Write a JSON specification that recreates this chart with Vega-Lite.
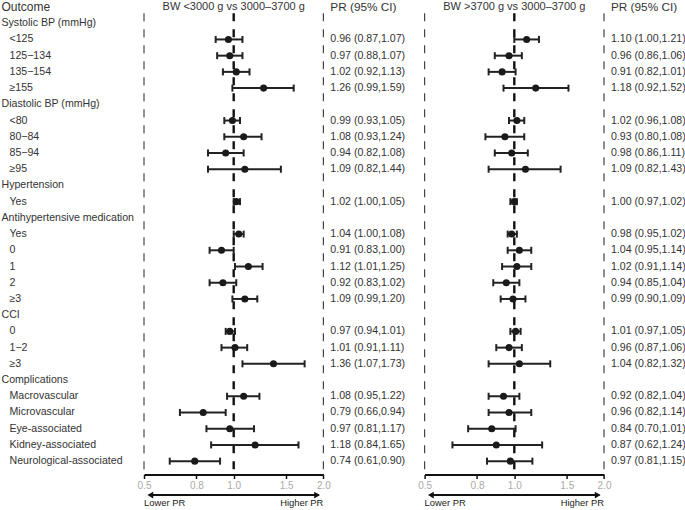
{
  "$schema": "https://vega.github.io/schema/vega-lite/v6.json",
  "padding": 0,
  "bounds": "flush",
  "spacing": 0,
  "config": {
    "view": {"stroke": null},
    "font": "Liberation Sans",
    "axisY": {"disable": true},
    "text": {"font": "Liberation Sans", "fontSize": 10.6, "color": "#333"}
  },
  "datasets": {
    "labels": [
      {"row": 0, "label": "Outcome", "indent": 0, "fs": 12},
      {"row": 1, "label": "Systolic BP (mmHg)", "indent": 0, "fs": 10.6},
      {"row": 2, "label": "<125", "indent": 1, "fs": 10.6},
      {"row": 3, "label": "125−134", "indent": 1, "fs": 10.6},
      {"row": 4, "label": "135−154", "indent": 1, "fs": 10.6},
      {"row": 5, "label": "≥155", "indent": 1, "fs": 10.6},
      {"row": 6, "label": "Diastolic BP (mmHg)", "indent": 0, "fs": 10.6},
      {"row": 7, "label": "<80", "indent": 1, "fs": 10.6},
      {"row": 8, "label": "80−84", "indent": 1, "fs": 10.6},
      {"row": 9, "label": "85−94", "indent": 1, "fs": 10.6},
      {"row": 10, "label": "≥95", "indent": 1, "fs": 10.6},
      {"row": 11, "label": "Hypertension", "indent": 0, "fs": 10.6},
      {"row": 12, "label": "Yes", "indent": 1, "fs": 10.6},
      {"row": 13, "label": "Antihypertensive medication", "indent": 0, "fs": 10.6},
      {"row": 14, "label": "Yes", "indent": 1, "fs": 10.6},
      {"row": 15, "label": "0", "indent": 1, "fs": 10.6},
      {"row": 16, "label": "1", "indent": 1, "fs": 10.6},
      {"row": 17, "label": "2", "indent": 1, "fs": 10.6},
      {"row": 18, "label": "≥3", "indent": 1, "fs": 10.6},
      {"row": 19, "label": "CCI", "indent": 0, "fs": 10.6},
      {"row": 20, "label": "0", "indent": 1, "fs": 10.6},
      {"row": 21, "label": "1−2", "indent": 1, "fs": 10.6},
      {"row": 22, "label": "≥3", "indent": 1, "fs": 10.6},
      {"row": 23, "label": "Complications", "indent": 0, "fs": 10.6},
      {"row": 24, "label": "Macrovascular", "indent": 1, "fs": 10.6},
      {"row": 25, "label": "Microvascular", "indent": 1, "fs": 10.6},
      {"row": 26, "label": "Eye-associated", "indent": 1, "fs": 10.6},
      {"row": 27, "label": "Kidney-associated", "indent": 1, "fs": 10.6},
      {"row": 28, "label": "Neurological-associated", "indent": 1, "fs": 10.6}
    ],
    "estA": [
      {"row": 2, "pr": 0.96, "lo": 0.87, "hi": 1.07, "ci": "0.96 (0.87,1.07)"},
      {"row": 3, "pr": 0.97, "lo": 0.88, "hi": 1.07, "ci": "0.97 (0.88,1.07)"},
      {"row": 4, "pr": 1.02, "lo": 0.92, "hi": 1.13, "ci": "1.02 (0.92,1.13)"},
      {"row": 5, "pr": 1.26, "lo": 0.99, "hi": 1.59, "ci": "1.26 (0.99,1.59)"},
      {"row": 7, "pr": 0.99, "lo": 0.93, "hi": 1.05, "ci": "0.99 (0.93,1.05)"},
      {"row": 8, "pr": 1.08, "lo": 0.93, "hi": 1.24, "ci": "1.08 (0.93,1.24)"},
      {"row": 9, "pr": 0.94, "lo": 0.82, "hi": 1.08, "ci": "0.94 (0.82,1.08)"},
      {"row": 10, "pr": 1.09, "lo": 0.82, "hi": 1.44, "ci": "1.09 (0.82,1.44)"},
      {"row": 12, "pr": 1.02, "lo": 1.00, "hi": 1.05, "ci": "1.02 (1.00,1.05)"},
      {"row": 14, "pr": 1.04, "lo": 1.00, "hi": 1.08, "ci": "1.04 (1.00,1.08)"},
      {"row": 15, "pr": 0.91, "lo": 0.83, "hi": 1.00, "ci": "0.91 (0.83,1.00)"},
      {"row": 16, "pr": 1.12, "lo": 1.01, "hi": 1.25, "ci": "1.12 (1.01,1.25)"},
      {"row": 17, "pr": 0.92, "lo": 0.83, "hi": 1.02, "ci": "0.92 (0.83,1.02)"},
      {"row": 18, "pr": 1.09, "lo": 0.99, "hi": 1.20, "ci": "1.09 (0.99,1.20)"},
      {"row": 20, "pr": 0.97, "lo": 0.94, "hi": 1.01, "ci": "0.97 (0.94,1.01)"},
      {"row": 21, "pr": 1.01, "lo": 0.91, "hi": 1.11, "ci": "1.01 (0.91,1.11)"},
      {"row": 22, "pr": 1.36, "lo": 1.07, "hi": 1.73, "ci": "1.36 (1.07,1.73)"},
      {"row": 24, "pr": 1.08, "lo": 0.95, "hi": 1.22, "ci": "1.08 (0.95,1.22)"},
      {"row": 25, "pr": 0.79, "lo": 0.66, "hi": 0.94, "ci": "0.79 (0.66,0.94)"},
      {"row": 26, "pr": 0.97, "lo": 0.81, "hi": 1.17, "ci": "0.97 (0.81,1.17)"},
      {"row": 27, "pr": 1.18, "lo": 0.84, "hi": 1.65, "ci": "1.18 (0.84,1.65)"},
      {"row": 28, "pr": 0.74, "lo": 0.61, "hi": 0.90, "ci": "0.74 (0.61,0.90)"}
    ],
    "estB": [
      {"row": 2, "pr": 1.10, "lo": 1.00, "hi": 1.21, "ci": "1.10 (1.00,1.21)"},
      {"row": 3, "pr": 0.96, "lo": 0.86, "hi": 1.06, "ci": "0.96 (0.86,1.06)"},
      {"row": 4, "pr": 0.91, "lo": 0.82, "hi": 1.01, "ci": "0.91 (0.82,1.01)"},
      {"row": 5, "pr": 1.18, "lo": 0.92, "hi": 1.52, "ci": "1.18 (0.92,1.52)"},
      {"row": 7, "pr": 1.02, "lo": 0.96, "hi": 1.08, "ci": "1.02 (0.96,1.08)"},
      {"row": 8, "pr": 0.93, "lo": 0.80, "hi": 1.08, "ci": "0.93 (0.80,1.08)"},
      {"row": 9, "pr": 0.98, "lo": 0.86, "hi": 1.11, "ci": "0.98 (0.86,1.11)"},
      {"row": 10, "pr": 1.09, "lo": 0.82, "hi": 1.43, "ci": "1.09 (0.82,1.43)"},
      {"row": 12, "pr": 1.00, "lo": 0.97, "hi": 1.02, "ci": "1.00 (0.97,1.02)"},
      {"row": 14, "pr": 0.98, "lo": 0.95, "hi": 1.02, "ci": "0.98 (0.95,1.02)"},
      {"row": 15, "pr": 1.04, "lo": 0.95, "hi": 1.14, "ci": "1.04 (0.95,1.14)"},
      {"row": 16, "pr": 1.02, "lo": 0.91, "hi": 1.14, "ci": "1.02 (0.91,1.14)"},
      {"row": 17, "pr": 0.94, "lo": 0.85, "hi": 1.04, "ci": "0.94 (0.85,1.04)"},
      {"row": 18, "pr": 0.99, "lo": 0.90, "hi": 1.09, "ci": "0.99 (0.90,1.09)"},
      {"row": 20, "pr": 1.01, "lo": 0.97, "hi": 1.05, "ci": "1.01 (0.97,1.05)"},
      {"row": 21, "pr": 0.96, "lo": 0.87, "hi": 1.06, "ci": "0.96 (0.87,1.06)"},
      {"row": 22, "pr": 1.04, "lo": 0.82, "hi": 1.32, "ci": "1.04 (0.82,1.32)"},
      {"row": 24, "pr": 0.92, "lo": 0.82, "hi": 1.04, "ci": "0.92 (0.82,1.04)"},
      {"row": 25, "pr": 0.96, "lo": 0.82, "hi": 1.14, "ci": "0.96 (0.82,1.14)"},
      {"row": 26, "pr": 0.84, "lo": 0.70, "hi": 1.01, "ci": "0.84 (0.70,1.01)"},
      {"row": 27, "pr": 0.87, "lo": 0.62, "hi": 1.24, "ci": "0.87 (0.62,1.24)"},
      {"row": 28, "pr": 0.97, "lo": 0.81, "hi": 1.15, "ci": "0.97 (0.81,1.15)"}
    ]
  },
  "hconcat": [
    {
      "width": 143.3,
      "height": 474.5,
      "data": {"name": "labels"},
      "mark": {"type": "text", "align": "left", "baseline": "middle", "color": "#333"},
      "encoding": {
        "x": {"field": "indent", "type": "quantitative", "scale": {"domain": [0, 1], "range": [1.5, 9.5]}, "axis": null},
        "y": {"field": "row", "type": "quantitative", "scale": {"domain": [-0.432, 28.823], "reverse": true, "nice": false, "zero": false}, "axis": null},
        "size": {"field": "fs", "type": "quantitative", "scale": null, "legend": null},
        "text": {"field": "label"}
      }
    },
    {
      "spacing": 100.6,
      "bounds": "flush",
      "hconcat": [
        {
          "width": 179.4,
          "height": 474.5,
          "layer": [
            {
              "data": {"values": [{"t": "BW <3000 g vs 3000–3700 g"}]},
              "mark": {"type": "text", "align": "center", "baseline": "middle", "fontSize": 11, "color": "#333"},
              "encoding": {
                "x": {"datum": 1, "type": "quantitative", "scale": {"type": "log", "domain": [0.5, 2], "nice": false},
                  "axis": {"values": [0.5, 0.75, 1, 1.5, 2], "labelExpr": "format(datum.value, '.1f')", "title": null, "grid": false, "domainColor": "#111", "domainWidth": 2, "tickColor": "#111", "tickWidth": 1.5, "tickSize": 4, "labelColor": "#aaa", "labelFontSize": 10, "labelFont": "Liberation Sans", "labelPadding": 2, "labelFlush": false, "labelOverlap": false}},
                "y": {"datum": 0, "type": "quantitative", "scale": {"domain": [-0.432, 28.823], "reverse": true, "nice": false, "zero": false}, "axis": null},
                "text": {"field": "t"}
              }
            },
            {
              "data": {"values": [{"t": "PR (95% CI)"}]},
              "mark": {"type": "text", "align": "left", "baseline": "middle", "fontSize": 11.8, "color": "#333"},
              "encoding": {"x": {"datum": 2.11, "type": "quantitative"}, "y": {"datum": 0, "type": "quantitative"}, "text": {"field": "t"}}
            },
            {
              "data": {"values": [{}]},
              "mark": {"type": "rule", "strokeDash": [8, 8], "strokeWidth": 1.2, "color": "#444"},
              "encoding": {"x": {"datum": 0.5, "type": "quantitative"}, "y": {"datum": 0.38, "type": "quantitative"}, "y2": {"datum": 28.823}}
            },
            {
              "data": {"values": [{}]},
              "mark": {"type": "rule", "strokeDash": [8, 8], "strokeWidth": 1.2, "color": "#444"},
              "encoding": {"x": {"datum": 2, "type": "quantitative"}, "y": {"datum": 0.38, "type": "quantitative"}, "y2": {"datum": 28.823}}
            },
            {
              "data": {"values": [{}]},
              "mark": {"type": "rule", "strokeDash": [8, 8], "strokeWidth": 2.4, "color": "#111"},
              "encoding": {"x": {"datum": 1, "type": "quantitative"}, "y": {"datum": 0.38, "type": "quantitative"}, "y2": {"datum": 28.823}}
            },
            {
              "data": {"name": "estA"},
              "mark": {"type": "rule", "strokeWidth": 2, "color": "#222"},
              "encoding": {"x": {"field": "lo", "type": "quantitative"}, "x2": {"field": "hi"}, "y": {"field": "row", "type": "quantitative"}}
            },
            {
              "data": {"name": "estA"},
              "mark": {"type": "tick", "orient": "vertical", "size": 7, "thickness": 2, "color": "#222", "opacity": 1},
              "encoding": {"x": {"field": "lo", "type": "quantitative"}, "y": {"field": "row", "type": "quantitative"}}
            },
            {
              "data": {"name": "estA"},
              "mark": {"type": "tick", "orient": "vertical", "size": 7, "thickness": 2, "color": "#222", "opacity": 1},
              "encoding": {"x": {"field": "hi", "type": "quantitative"}, "y": {"field": "row", "type": "quantitative"}}
            },
            {
              "data": {"name": "estA"},
              "mark": {"type": "point", "filled": true, "size": 50, "color": "#1a1a1a", "opacity": 1},
              "encoding": {"x": {"field": "pr", "type": "quantitative"}, "y": {"field": "row", "type": "quantitative"}}
            },
            {
              "data": {"name": "estA"},
              "mark": {"type": "text", "align": "left", "baseline": "middle", "fontSize": 10.6, "color": "#333"},
              "encoding": {"x": {"datum": 2.11, "type": "quantitative"}, "y": {"field": "row", "type": "quantitative"}, "text": {"field": "ci"}}
            },
            {
              "data": {"values": [{}]},
              "mark": {"type": "rule", "strokeWidth": 2, "color": "#111"},
              "encoding": {"x": {"datum": 0.52, "type": "quantitative"}, "x2": {"datum": 1.93}, "y": {"datum": 30.09, "type": "quantitative"}}
            },
            {
              "data": {"values": [{}]},
              "mark": {"type": "point", "shape": "triangle-left", "filled": true, "size": 45, "color": "#111", "opacity": 1},
              "encoding": {"x": {"datum": 0.525, "type": "quantitative"}, "y": {"datum": 30.09, "type": "quantitative"}}
            },
            {
              "data": {"values": [{}]},
              "mark": {"type": "point", "shape": "triangle-right", "filled": true, "size": 45, "color": "#111", "opacity": 1},
              "encoding": {"x": {"datum": 1.905, "type": "quantitative"}, "y": {"datum": 30.09, "type": "quantitative"}}
            },
            {
              "data": {"values": [{"t": "Lower PR"}]},
              "mark": {"type": "text", "align": "left", "baseline": "middle", "fontSize": 9.4, "color": "#222"},
              "encoding": {"x": {"datum": 0.5, "type": "quantitative"}, "y": {"datum": 30.6, "type": "quantitative"}, "text": {"field": "t"}}
            },
            {
              "data": {"values": [{"t": "Higher PR"}]},
              "mark": {"type": "text", "align": "right", "baseline": "middle", "fontSize": 9.4, "color": "#222"},
              "encoding": {"x": {"datum": 2, "type": "quantitative"}, "y": {"datum": 30.6, "type": "quantitative"}, "text": {"field": "t"}}
            }
          ]
        },
        {
          "width": 179.4,
          "height": 474.5,
          "layer": [
            {
              "data": {"values": [{"t": "BW >3700 g vs 3000–3700 g"}]},
              "mark": {"type": "text", "align": "center", "baseline": "middle", "fontSize": 11, "color": "#333"},
              "encoding": {
                "x": {"datum": 1, "type": "quantitative", "scale": {"type": "log", "domain": [0.5, 2], "nice": false},
                  "axis": {"values": [0.5, 0.75, 1, 1.5, 2], "labelExpr": "format(datum.value, '.1f')", "title": null, "grid": false, "domainColor": "#111", "domainWidth": 2, "tickColor": "#111", "tickWidth": 1.5, "tickSize": 4, "labelColor": "#aaa", "labelFontSize": 10, "labelFont": "Liberation Sans", "labelPadding": 2, "labelFlush": false, "labelOverlap": false}},
                "y": {"datum": 0, "type": "quantitative", "scale": {"domain": [-0.432, 28.823], "reverse": true, "nice": false, "zero": false}, "axis": null},
                "text": {"field": "t"}
              }
            },
            {
              "data": {"values": [{"t": "PR (95% CI)"}]},
              "mark": {"type": "text", "align": "left", "baseline": "middle", "fontSize": 11.8, "color": "#333"},
              "encoding": {"x": {"datum": 2.11, "type": "quantitative"}, "y": {"datum": 0, "type": "quantitative"}, "text": {"field": "t"}}
            },
            {
              "data": {"values": [{}]},
              "mark": {"type": "rule", "strokeDash": [8, 8], "strokeWidth": 1.2, "color": "#444"},
              "encoding": {"x": {"datum": 0.5, "type": "quantitative"}, "y": {"datum": 0.38, "type": "quantitative"}, "y2": {"datum": 28.823}}
            },
            {
              "data": {"values": [{}]},
              "mark": {"type": "rule", "strokeDash": [8, 8], "strokeWidth": 1.2, "color": "#444"},
              "encoding": {"x": {"datum": 2, "type": "quantitative"}, "y": {"datum": 0.38, "type": "quantitative"}, "y2": {"datum": 28.823}}
            },
            {
              "data": {"values": [{}]},
              "mark": {"type": "rule", "strokeDash": [8, 8], "strokeWidth": 2.4, "color": "#111"},
              "encoding": {"x": {"datum": 1, "type": "quantitative"}, "y": {"datum": 0.38, "type": "quantitative"}, "y2": {"datum": 28.823}}
            },
            {
              "data": {"name": "estB"},
              "mark": {"type": "rule", "strokeWidth": 2, "color": "#222"},
              "encoding": {"x": {"field": "lo", "type": "quantitative"}, "x2": {"field": "hi"}, "y": {"field": "row", "type": "quantitative"}}
            },
            {
              "data": {"name": "estB"},
              "mark": {"type": "tick", "orient": "vertical", "size": 7, "thickness": 2, "color": "#222", "opacity": 1},
              "encoding": {"x": {"field": "lo", "type": "quantitative"}, "y": {"field": "row", "type": "quantitative"}}
            },
            {
              "data": {"name": "estB"},
              "mark": {"type": "tick", "orient": "vertical", "size": 7, "thickness": 2, "color": "#222", "opacity": 1},
              "encoding": {"x": {"field": "hi", "type": "quantitative"}, "y": {"field": "row", "type": "quantitative"}}
            },
            {
              "data": {"name": "estB"},
              "mark": {"type": "point", "filled": true, "size": 50, "color": "#1a1a1a", "opacity": 1},
              "encoding": {"x": {"field": "pr", "type": "quantitative"}, "y": {"field": "row", "type": "quantitative"}}
            },
            {
              "data": {"name": "estB"},
              "mark": {"type": "text", "align": "left", "baseline": "middle", "fontSize": 10.6, "color": "#333"},
              "encoding": {"x": {"datum": 2.11, "type": "quantitative"}, "y": {"field": "row", "type": "quantitative"}, "text": {"field": "ci"}}
            },
            {
              "data": {"values": [{}]},
              "mark": {"type": "rule", "strokeWidth": 2, "color": "#111"},
              "encoding": {"x": {"datum": 0.52, "type": "quantitative"}, "x2": {"datum": 1.93}, "y": {"datum": 30.09, "type": "quantitative"}}
            },
            {
              "data": {"values": [{}]},
              "mark": {"type": "point", "shape": "triangle-left", "filled": true, "size": 45, "color": "#111", "opacity": 1},
              "encoding": {"x": {"datum": 0.525, "type": "quantitative"}, "y": {"datum": 30.09, "type": "quantitative"}}
            },
            {
              "data": {"values": [{}]},
              "mark": {"type": "point", "shape": "triangle-right", "filled": true, "size": 45, "color": "#111", "opacity": 1},
              "encoding": {"x": {"datum": 1.905, "type": "quantitative"}, "y": {"datum": 30.09, "type": "quantitative"}}
            },
            {
              "data": {"values": [{"t": "Lower PR"}]},
              "mark": {"type": "text", "align": "left", "baseline": "middle", "fontSize": 9.4, "color": "#222"},
              "encoding": {"x": {"datum": 0.5, "type": "quantitative"}, "y": {"datum": 30.6, "type": "quantitative"}, "text": {"field": "t"}}
            },
            {
              "data": {"values": [{"t": "Higher PR"}]},
              "mark": {"type": "text", "align": "right", "baseline": "middle", "fontSize": 9.4, "color": "#222"},
              "encoding": {"x": {"datum": 2, "type": "quantitative"}, "y": {"datum": 30.6, "type": "quantitative"}, "text": {"field": "t"}}
            }
          ]
        }
      ]
    }
  ]
}
